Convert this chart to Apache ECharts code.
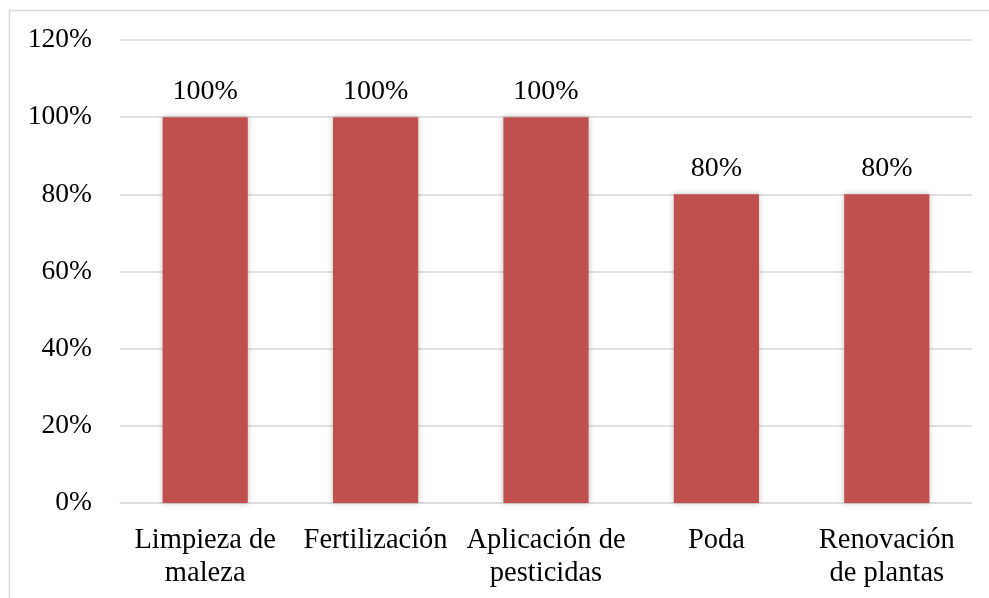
<!DOCTYPE html>
<html>
<head>
<meta charset="utf-8">
<script src="https://cdn.jsdelivr.net/npm/echarts@6/dist/echarts.min.js"></script>
<style>
  html, body { margin: 0; padding: 0; background: #fff; }
  #chart { width: 989px; height: 598px; }
</style>
</head>
<body>
<div id="chart"></div>
<script>
const categories = ['Limpieza de\nmaleza', 'Fertilización', 'Aplicación de\npesticidas', 'Poda', 'Renovación\nde plantas']
const values = [100, 100, 100, 80, 80]
const yTicks = [0, 20, 40, 60, 80, 100, 120]

const font = '"Liberation Serif", "Times New Roman", serif'
const myChart = echarts.init(document.getElementById('chart'))

myChart.setOption({
  animation: false,
  graphic: [{
    type: 'rect',
    shape: { x: 9.5, y: 10.5, width: 1000, height: 600 },
    style: { fill: 'none', stroke: '#d9d9d9', lineWidth: 1.5 },
    silent: true
  }],
  grid: { left: 120, right: 17, top: 40, bottom: 95 },
  xAxis: {
    type: 'category',
    data: categories,
    axisLine: { lineStyle: { color: '#d9d9d9', width: 1.5 } },
    axisTick: { show: false },
    axisLabel: {
      color: '#000',
      fontFamily: font,
      fontSize: 28.5,
      lineHeight: 33,
      margin: 21,
      interval: 0
    }
  },
  yAxis: {
    type: 'value',
    min: yTicks[0],
    max: yTicks[yTicks.length - 1],
    interval: 20,
    axisLine: { show: false },
    axisTick: { show: false },
    splitLine: { lineStyle: { color: '#d9d9d9', width: 1.5 } },
    axisLabel: {
      color: '#000',
      fontFamily: font,
      fontSize: 27.5,
      margin: 28,
      formatter: v => v + '%'
    }
  },
  series: [{
    type: 'bar',
    data: values,
    barWidth: '50%',
    itemStyle: {
      color: '#c0504d',
      shadowColor: 'rgba(0,0,0,0.25)',
      shadowBlur: 6
    },
    label: {
      show: true,
      position: 'top',
      distance: 12,
      color: '#000',
      fontFamily: font,
      fontSize: 28,
      formatter: p => p.value + '%'
    }
  }]
})
</script>
</body>
</html>
